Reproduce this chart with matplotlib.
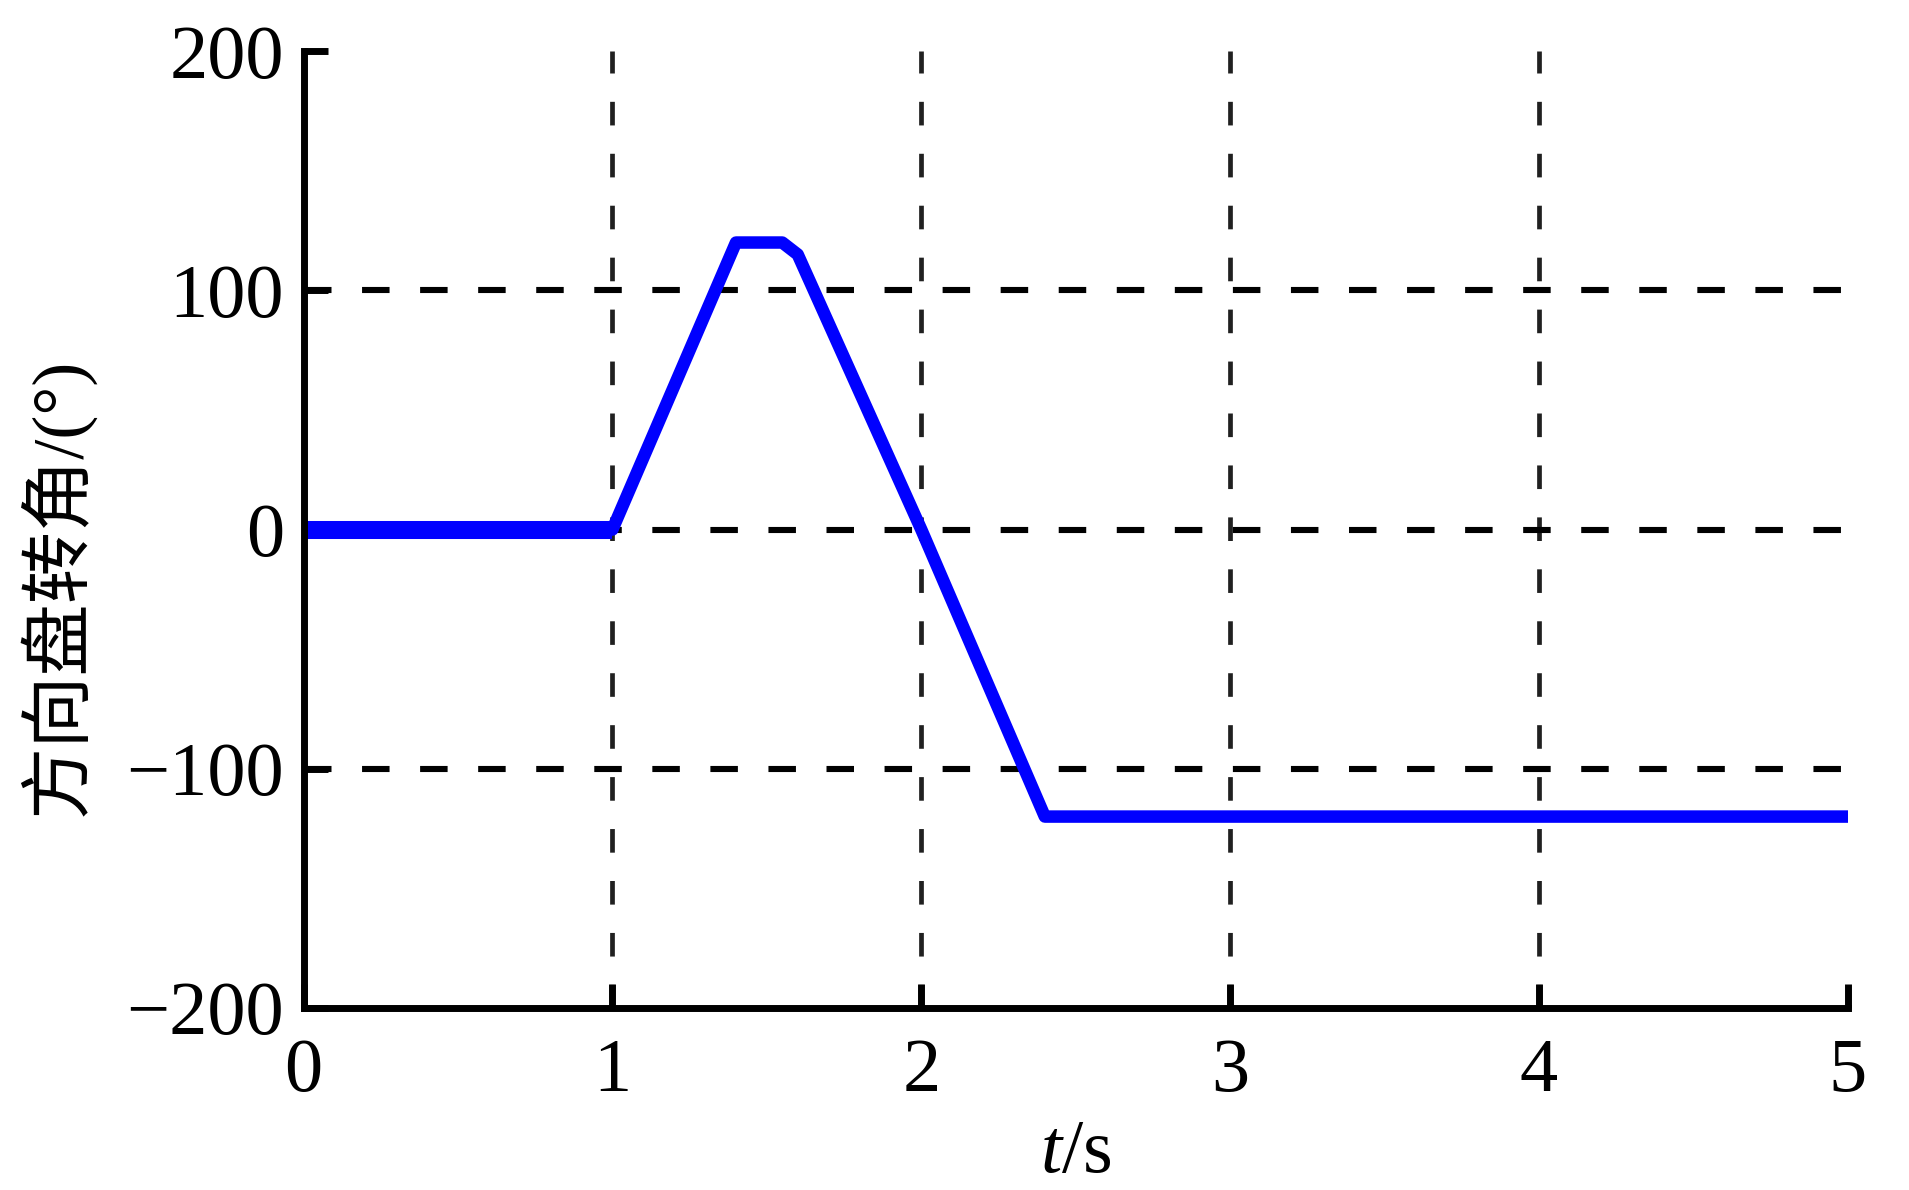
import numpy as np
import matplotlib
matplotlib.use("Agg")
import matplotlib.pyplot as plt

# steering wheel angle vs time
t_s = [0.0, 1.0, 1.4, 1.55, 1.6, 2.0, 2.4, 5.0]
angle_deg = [0.0, 0.0, 120.0, 120.0, 115.0, 0.0, -120.0, -120.0]

x_ticks = [0, 1, 2, 3, 4, 5]
y_ticks = [-200, -100, 0, 100, 200]
grid_x = [1, 2, 3, 4]
grid_y = [-100, 0, 100]

plt.rcParams['font.family'] = ['Liberation Serif', 'Noto Sans CJK SC']
plt.rcParams['mathtext.fontset'] = 'custom'
plt.rcParams['mathtext.rm'] = 'Liberation Serif'
plt.rcParams['mathtext.it'] = 'Liberation Serif:italic'

fig = plt.figure(figsize=(19.09, 11.90), dpi=100)
ax = fig.add_axes([0.159, 0.153, 0.809, 0.804])

for gx in grid_x:
    ax.axvline(gx, color='#202020', lw=3.4, linestyle=(0, (5.0, 6.0)), zorder=1)
for gy in grid_y:
    ax.axhline(gy, color='black', lw=4.4, linestyle=(0, (4.5, 5.0)), zorder=1)

# the flat start is drawn heavier in the original
ax.plot(t_s[:2], angle_deg[:2], color='#0000ff', lw=13, solid_capstyle='butt', zorder=3)
ax.plot(t_s, angle_deg, color='#0000ff', lw=9, solid_joinstyle='round', zorder=3)

ax.set_xlim(0, 5)
ax.set_ylim(-200, 200)
ax.set_xticks(x_ticks)
ax.set_yticks(y_ticks)
ax.set_yticklabels([str(v).replace('-', '\u2212') for v in y_ticks])

ax.spines['top'].set_visible(False)
ax.spines['right'].set_visible(False)
for s in ['left', 'bottom']:
    ax.spines[s].set_linewidth(5.0)
    ax.spines[s].set_zorder(4)

ax.tick_params(direction='in', length=17, width=5.0, labelsize=55, color='black')
ax.tick_params(axis='x', pad=22)
ax.tick_params(axis='y', pad=14)

ax.set_xlabel(r'$t$/s', fontsize=55, labelpad=8)
ax.set_ylabel('方向盘转角/(°)', fontsize=52, labelpad=10)
ax.yaxis.set_label_coords(-0.135, 0.44)

fig.savefig('out.png', dpi=100, facecolor='white')
